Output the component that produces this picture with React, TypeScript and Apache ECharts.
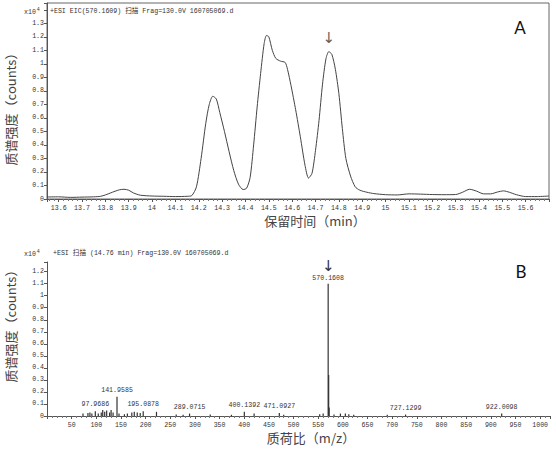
import React, { useEffect, useRef } from 'react';
import * as echarts from 'echarts';

// ---- Panel A: extracted ion chromatogram (x10^4 counts) ----
const eicTime = [
  13.55, 13.6, 13.65, 13.7, 13.75, 13.78, 13.8, 13.83, 13.86, 13.88, 13.9, 13.92, 13.95,
  14.0, 14.05, 14.1, 14.15, 14.17, 14.19, 14.21, 14.23, 14.245, 14.26, 14.275, 14.29,
  14.31, 14.33, 14.35, 14.37, 14.39, 14.405, 14.42, 14.435, 14.45, 14.465, 14.48, 14.49,
  14.5, 14.515, 14.53, 14.55, 14.57, 14.58, 14.595, 14.615, 14.635, 14.655, 14.67, 14.685,
  14.7, 14.715, 14.73, 14.745, 14.757, 14.77, 14.785, 14.8, 14.815, 14.83, 14.85, 14.87,
  14.89, 14.92, 14.95, 15.0, 15.05, 15.1, 15.15, 15.2, 15.25, 15.3, 15.33, 15.36, 15.39,
  15.42, 15.45, 15.48, 15.505, 15.53, 15.56, 15.6, 15.65, 15.7,
];
const eicIntensity = [
  0.015, 0.016, 0.012, 0.014, 0.016, 0.02, 0.03, 0.05, 0.068, 0.072, 0.065, 0.045, 0.028,
  0.022, 0.02, 0.018, 0.02, 0.025, 0.09, 0.3, 0.56, 0.7, 0.76, 0.74, 0.64,
  0.5, 0.35, 0.21, 0.11, 0.07, 0.08, 0.16, 0.4, 0.68, 0.93, 1.15, 1.21,
  1.2, 1.1, 1.04, 1.02, 1.01, 0.96, 0.84, 0.66, 0.46, 0.25, 0.155, 0.19,
  0.36, 0.58, 0.85, 1.04, 1.09, 1.07, 0.96, 0.78, 0.52, 0.3, 0.17, 0.09,
  0.065, 0.05, 0.04, 0.032, 0.03, 0.038, 0.036, 0.033, 0.032, 0.033, 0.05, 0.072, 0.058,
  0.038, 0.038, 0.052, 0.06, 0.05, 0.032, 0.018, 0.018, 0.022,
];
const markedTime = 14.757;
const eicXLabelMax = 15.6;
const eicYLabelMax = 1.3;

// ---- Panel B: mass spectrum at 14.76 min (x10^4 counts) ----
const msMz = [
  73, 83, 87, 91, 97.9686, 104, 110, 113, 117, 121, 127, 130, 134, 141.9585, 146, 157, 163,
  172, 177, 183, 189, 195.0878, 222, 262, 276, 289.0715, 331, 374, 400.1392, 420, 471.0927,
  480, 553, 560, 570.1608, 571.164, 572.16, 582, 595, 605, 612, 622, 690, 727.1299, 922.0098,
];
const msIntensity = [
  0.02, 0.025, 0.03, 0.02, 0.04, 0.02, 0.03, 0.05, 0.035, 0.045, 0.03, 0.05, 0.03, 0.16, 0.02, 0.015, 0.02,
  0.03, 0.035, 0.03, 0.025, 0.04, 0.035, 0.012, 0.01, 0.02, 0.012, 0.01, 0.035, 0.02, 0.025,
  0.01, 0.015, 0.02, 1.1, 0.34, 0.07, 0.012, 0.02, 0.02, 0.015, 0.01, 0.01, 0.012, 0.02,
];
const msLabelled = [97.9686, 141.9585, 195.0878, 289.0715, 400.1392, 471.0927, 727.1299, 922.0098];
const msMarked = 570.1608;
const msYLabelMax = 1.2;

const topHeader = '+ESI EIC(570.1609) 扫描 Frag=130.0V 160705069.d';
const bottomHeader = '+ESI 扫描 (14.76 min) Frag=130.0V 160705069.d';
const yTitle = '质谱强度（counts）';
const xTitleTop = '保留时间（min）';
const xTitleBottom = '质荷比（m/z）';

const MONO = '"Liberation Mono", "Noto Sans CJK SC", monospace';
const CJK = '"Noto Sans CJK SC", sans-serif';
const INK = '#333';

function tenthLabel(v: number): string {
  const r = Math.round(v * 10);
  if (Math.abs(v * 10 - r) > 1e-6) return '';
  return String(r / 10);
}

export default function App() {
  const ref = useRef<HTMLDivElement>(null);
  useEffect(() => {
    if (!ref.current) return;
    const chart = echarts.init(ref.current, undefined, { renderer: 'svg' });

    const axisLabelStyle = { fontFamily: MONO, fontSize: 6.6, color: INK };
    const lineStyle = { color: '#555', width: 1 };

    const eicData = eicTime.map((t, i) => [t, eicIntensity[i]]);
    const markIdx = eicTime.indexOf(markedTime);

    const msData = msMz.map((m, i) => {
      const v = msIntensity[i];
      if (m === msMarked) {
        return {
          value: [m, v],
          label: {
            show: true,
            position: 'top',
            distance: 1,
            color: INK,
            formatter: '{a|↓}\n{b|' + m.toFixed(4) + '}',
            rich: {
              a: { fontFamily: '"DejaVu Sans"', fontSize: 15, lineHeight: 15, color: INK, align: 'center' },
              b: { fontFamily: MONO, fontSize: 6.6, lineHeight: 9, color: INK, align: 'center' },
            },
          },
        };
      }
      if (msLabelled.indexOf(m) >= 0) {
        return {
          value: [m, v],
          label: {
            show: true,
            position: 'top',
            distance: 3,
            formatter: m.toFixed(4),
            fontFamily: MONO,
            fontSize: 6.6,
            color: INK,
          },
        };
      }
      return { value: [m, v] };
    });

    const option: any = {
      animation: false,
      grid: [
        { left: 47, top: 3, width: 502, height: 196, show: true, borderColor: '#666', borderWidth: 1, backgroundColor: 'transparent' },
        { left: 47, top: 262, width: 503, height: 154 },
      ],
      xAxis: [
        {
          gridIndex: 0,
          type: 'value',
          min: 13.55,
          max: 15.7,
          splitNumber: 21,
          axisLine: { lineStyle },
          axisTick: { length: 3, lineStyle },
          minorTick: { show: true, splitNumber: 5, length: 2, lineStyle: { color: '#777' } },
          splitLine: { show: false },
          axisLabel: {
            ...axisLabelStyle,
            margin: 6,
            showMaxLabel: false,
            formatter: (v: number) => (v > eicXLabelMax + 1e-6 ? '' : tenthLabel(v)),
          },
        },
        {
          gridIndex: 1,
          type: 'value',
          min: 0,
          max: 1020,
          interval: 50,
          axisLine: { lineStyle },
          axisTick: { length: 3, lineStyle },
          minorTick: { show: true, splitNumber: 5, length: 2, lineStyle: { color: '#777' } },
          splitLine: { show: false },
          axisLabel: {
            ...axisLabelStyle,
            margin: 6,
            formatter: (v: number) => (v === 0 || v % 50 !== 0 ? '' : String(v)),
          },
        },
      ],
      yAxis: [
        {
          gridIndex: 0,
          type: 'value',
          min: 0,
          max: 1.45,
          interval: 0.1,
          axisLine: { show: true, lineStyle },
          axisTick: { show: true, length: 3, lineStyle },
          splitLine: { show: false },
          axisLabel: {
            ...axisLabelStyle,
            margin: 3,
            formatter: (v: number) => (v > eicYLabelMax + 1e-6 ? '' : tenthLabel(v)),
          },
        },
        {
          gridIndex: 1,
          type: 'value',
          min: 0,
          max: 1.28,
          interval: 0.1,
          axisLine: { show: true, lineStyle },
          axisTick: { show: true, length: 3, lineStyle },
          splitLine: { show: false },
          axisLabel: {
            ...axisLabelStyle,
            margin: 3,
            formatter: (v: number) => (v > msYLabelMax + 1e-6 ? '' : tenthLabel(v)),
          },
        },
      ],
      series: [
        {
          type: 'line',
          xAxisIndex: 0,
          yAxisIndex: 0,
          data: eicData,
          smooth: 0.25,
          showSymbol: false,
          lineStyle: { color: '#444', width: 1 },
        },
        {
          type: 'scatter',
          xAxisIndex: 0,
          yAxisIndex: 0,
          data: [[eicTime[markIdx], eicIntensity[markIdx]]],
          symbolSize: 1,
          itemStyle: { color: 'rgba(0,0,0,0)' },
          label: {
            show: true,
            position: 'top',
            distance: 6,
            formatter: '↓',
            fontFamily: '"DejaVu Sans"',
            fontSize: 15,
            color: INK,
          },
        },
        {
          type: 'bar',
          xAxisIndex: 1,
          yAxisIndex: 1,
          data: msData,
          barWidth: 1.2,
          itemStyle: { color: '#333' },
        },
      ],
      graphic: [
        {
          type: 'text', left: 24, top: 7,
          style: { text: '{a|x10}{b|4}', rich: { a: { fontFamily: MONO, fontSize: 6.6, fill: INK }, b: { fontFamily: MONO, fontSize: 5, fill: INK, padding: [0, 0, 5, 1] } } },
        },
        { type: 'text', left: 50, top: 8, style: { text: topHeader, font: '6.6px ' + MONO, fill: INK } },
        {
          type: 'text', left: 24, top: 249,
          style: { text: '{a|x10}{b|4}', rich: { a: { fontFamily: MONO, fontSize: 6.6, fill: INK }, b: { fontFamily: MONO, fontSize: 5, fill: INK, padding: [0, 0, 5, 1] } } },
        },
        { type: 'text', left: 53, top: 250, style: { text: bottomHeader, font: '6.6px ' + MONO, fill: INK } },
        { type: 'text', x: 520, y: 27, style: { text: 'A', font: '17px Lato', fill: '#111', align: 'center', verticalAlign: 'middle' } },
        { type: 'text', x: 521, y: 271, style: { text: 'B', font: '17px Lato', fill: '#111', align: 'center', verticalAlign: 'middle' } },
        { type: 'text', x: 315, y: 220, style: { text: xTitleTop, font: '13px ' + CJK, fill: '#444', align: 'center', verticalAlign: 'middle' } },
        { type: 'text', x: 311, y: 437, style: { text: xTitleBottom, font: '13px ' + CJK, fill: '#444', align: 'center', verticalAlign: 'middle' } },
        { type: 'text', x: 10, y: 106, rotation: Math.PI / 2, style: { text: yTitle, font: '13px ' + CJK, fill: '#444', align: 'center', verticalAlign: 'middle' } },
        { type: 'text', x: 10, y: 323, rotation: Math.PI / 2, style: { text: yTitle, font: '13px ' + CJK, fill: '#444', align: 'center', verticalAlign: 'middle' } },
      ],
    };
    chart.setOption(option);
    return () => chart.dispose();
  }, []);

  return <div ref={ref} style={{ width: 556, height: 450, position: 'absolute', left: 0, top: 0, background: '#fff' }} />;
}
